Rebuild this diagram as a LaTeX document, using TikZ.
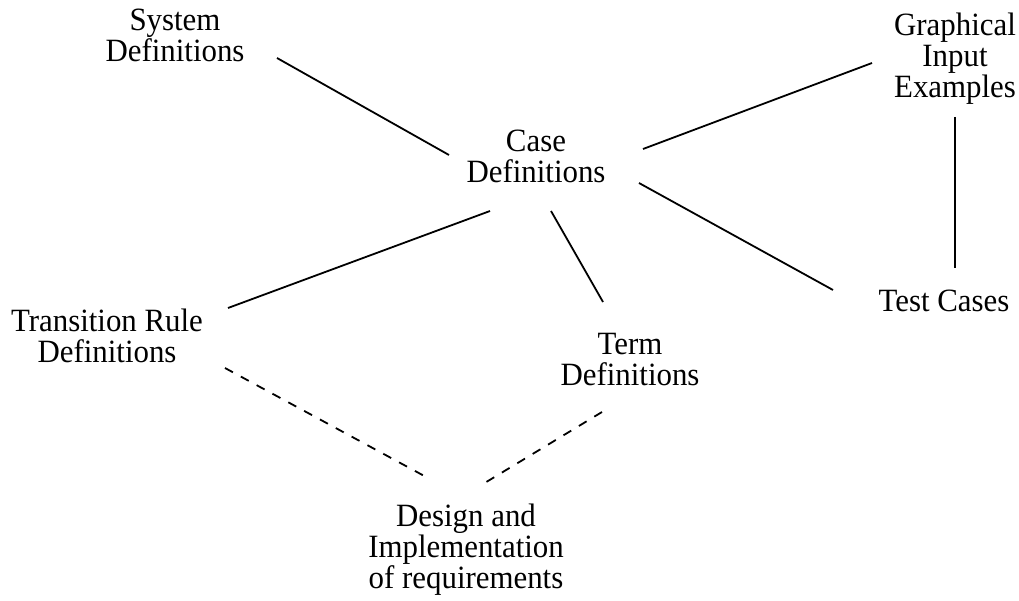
\documentclass[tikz,border=0pt]{standalone}
\usepackage{fontspec}
\setmainfont{Liberation Serif}[FakeStretch=0.95]
\usepackage{tikz}
\usetikzlibrary{calc}

\begin{document}
\begin{tikzpicture}[x=1pt,y=-1pt,line width=1.8pt]
\useasboundingbox (0,0) rectangle (1019,601);
\begin{scope}[every node/.style={align=center,inner sep=0pt,font=\fontsize{32.5}{31}\selectfont}]
    \node (sys) at (175,35.5) {System\\Definitions};
    \node (case) at (536,156.5) {Case\\Definitions};
    \node (graph) at (955,58.5) {Graphical\\Input\\Examples};
    \node (test) at (944,301) {Test Cases};
    \node (trans) at (107,336) {Transition Rule\\Definitions};
    \node (term) at (630,360) {Term\\Definitions};
    \node (design) at (466,549.5) {Design and\\Implementation\\of requirements};
\end{scope}
\begin{scope}
    \draw ([shift={(102,22.5)}]sys.center) -- ([shift={(-87,-1.5)}]case.center);
    \draw ([shift={(107,-7.5)}]case.center) -- ([shift={(-83,4.5)}]graph.center);
    \draw ([shift={(103,26.5)}]case.center) -- ([shift={(-111,-11)}]test.center);
    \draw ([shift={(-46,54.5)}]case.center) -- ([shift={(121,-28)}]trans.center);
    \draw ([shift={(15,54.5)}]case.center) -- ([shift={(-27,-58)}]term.center);
    \draw ([shift={(0,58.5)}]graph.center) -- ([shift={(11,-33)}]test.center);
    \draw[dash pattern=on 9pt off 9pt] ([shift={(118,32)}]trans.center) -- ([shift={(-38,-71.5)}]design.center);
    \draw[dash pattern=on 9pt off 9pt] ([shift={(-28,52)}]term.center) -- ([shift={(17,-65.5)}]design.center);
\end{scope}
\end{tikzpicture}
\end{document}
